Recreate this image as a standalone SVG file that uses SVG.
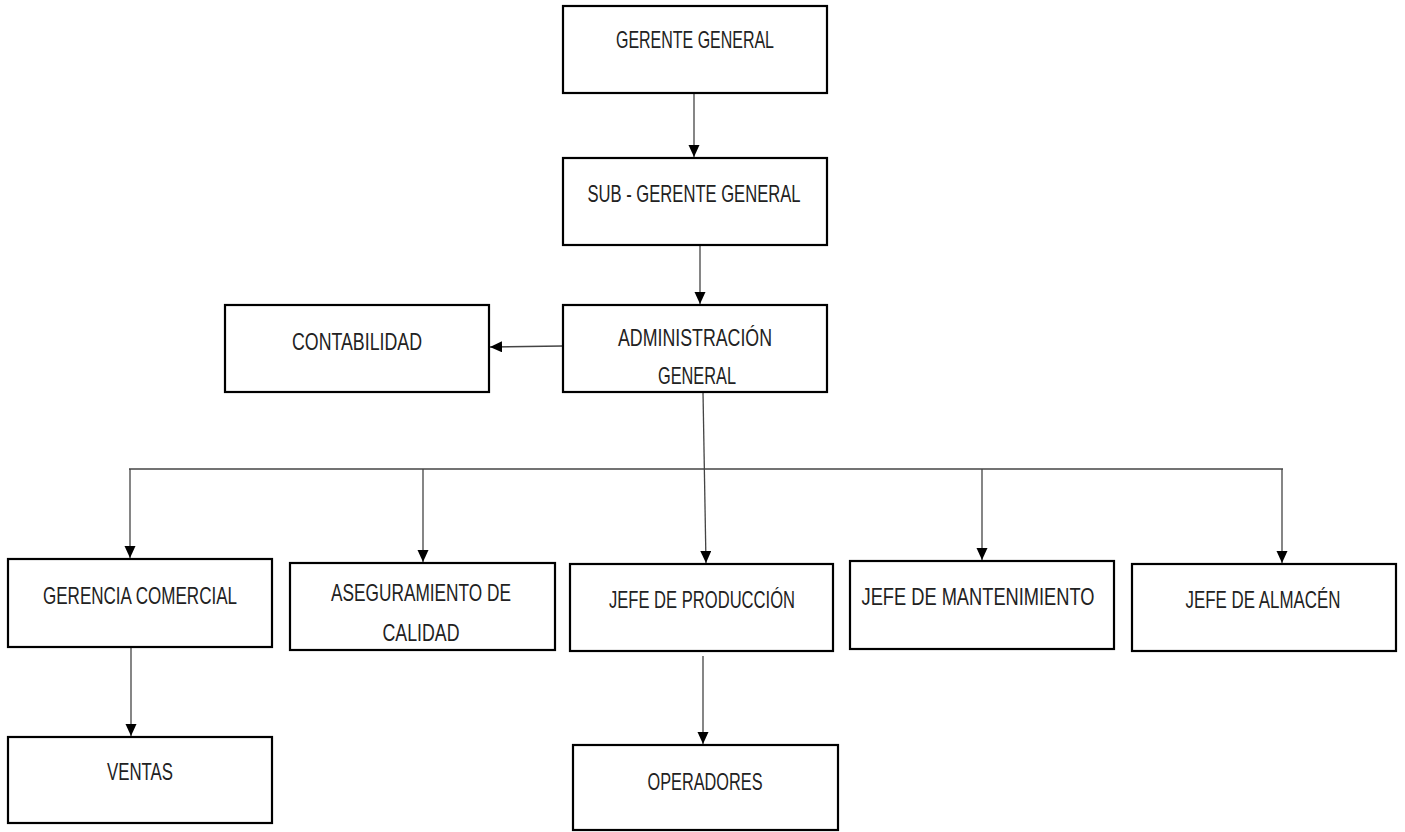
<svg xmlns="http://www.w3.org/2000/svg" width="1405" height="832" viewBox="0 0 1405 832">
<style>
.box{fill:#fff;stroke:#000;stroke-width:2.2}
.lbl{font-family:"Liberation Sans",Arial,sans-serif;font-size:24px;fill:#222;text-anchor:middle}
.con{fill:none;stroke:#444;stroke-width:1.3}
</style>
<defs>
<marker id="ah" markerUnits="userSpaceOnUse" markerWidth="12" markerHeight="12" refX="12" refY="5.5" orient="auto">
<path d="M0,0 L12,5.5 L0,11 z" fill="#000"/>
</marker>
</defs>
<rect width="1405" height="832" fill="#fff"/>
<g id="connectors">
<line class="con" x1="694" y1="93" x2="694" y2="157" marker-end="url(#ah)"/>
<line class="con" x1="700" y1="245" x2="700" y2="304" marker-end="url(#ah)"/>
<line class="con" x1="563" y1="346" x2="490" y2="347" marker-end="url(#ah)"/>
<line class="con" x1="703" y1="392" x2="706" y2="563" marker-end="url(#ah)"/>
<line class="con" x1="129" y1="469" x2="1283" y2="469"/>
<line class="con" x1="130" y1="469" x2="130" y2="558" marker-end="url(#ah)"/>
<line class="con" x1="423" y1="469" x2="423" y2="562" marker-end="url(#ah)"/>
<line class="con" x1="982" y1="469" x2="982" y2="560" marker-end="url(#ah)"/>
<line class="con" x1="1282" y1="469" x2="1282" y2="563" marker-end="url(#ah)"/>
<line class="con" x1="131" y1="647" x2="131" y2="736" marker-end="url(#ah)"/>
<line class="con" x1="703" y1="656" x2="703" y2="744" marker-end="url(#ah)"/>
</g>
<g id="gerente-general">
<rect class="box" x="563" y="6" width="264" height="87"/>
<text class="lbl" x="695" y="48" textLength="158" lengthAdjust="spacingAndGlyphs">GERENTE GENERAL</text>
</g>
<g id="sub-gerente-general">
<rect class="box" x="563" y="158" width="264" height="87"/>
<text class="lbl" x="694" y="202" textLength="213" lengthAdjust="spacingAndGlyphs">SUB - GERENTE GENERAL</text>
</g>
<g id="contabilidad">
<rect class="box" x="225" y="305" width="264" height="87"/>
<text class="lbl" x="357" y="350" textLength="130" lengthAdjust="spacingAndGlyphs">CONTABILIDAD</text>
</g>
<g id="administracion-general">
<rect class="box" x="563" y="305" width="264" height="87"/>
<text class="lbl" x="695" y="346" textLength="154" lengthAdjust="spacingAndGlyphs">ADMINISTRACIÓN</text>
<text class="lbl" x="697" y="384" textLength="78" lengthAdjust="spacingAndGlyphs">GENERAL</text>
</g>
<g id="gerencia-comercial">
<rect class="box" x="8" y="559" width="264" height="88"/>
<text class="lbl" x="140" y="604" textLength="194" lengthAdjust="spacingAndGlyphs">GERENCIA COMERCIAL</text>
</g>
<g id="aseguramiento-calidad">
<rect class="box" x="290" y="563" width="265" height="87"/>
<text class="lbl" x="421" y="601" textLength="180" lengthAdjust="spacingAndGlyphs">ASEGURAMIENTO DE</text>
<text class="lbl" x="421" y="641" textLength="77" lengthAdjust="spacingAndGlyphs">CALIDAD</text>
</g>
<g id="jefe-produccion">
<rect class="box" x="570" y="564" width="263" height="87"/>
<text class="lbl" x="702" y="608" textLength="186" lengthAdjust="spacingAndGlyphs">JEFE DE PRODUCCIÓN</text>
</g>
<g id="jefe-mantenimiento">
<rect class="box" x="850" y="561" width="264" height="88"/>
<text class="lbl" x="978" y="605" textLength="233" lengthAdjust="spacingAndGlyphs">JEFE DE MANTENIMIENTO</text>
</g>
<g id="jefe-almacen">
<rect class="box" x="1132" y="564" width="264" height="87"/>
<text class="lbl" x="1263" y="608" textLength="155" lengthAdjust="spacingAndGlyphs">JEFE DE ALMACÉN</text>
</g>
<g id="ventas">
<rect class="box" x="8" y="737" width="264" height="86"/>
<text class="lbl" x="140" y="780" textLength="66" lengthAdjust="spacingAndGlyphs">VENTAS</text>
</g>
<g id="operadores">
<rect class="box" x="573" y="745" width="265" height="85"/>
<text class="lbl" x="705" y="790" textLength="115" lengthAdjust="spacingAndGlyphs">OPERADORES</text>
</g>
</svg>
